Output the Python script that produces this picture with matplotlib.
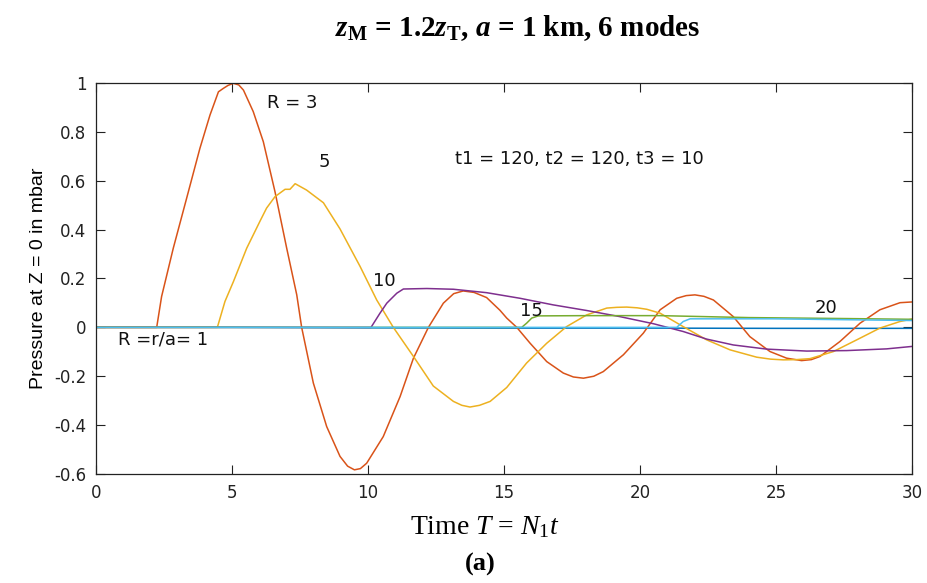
import matplotlib
matplotlib.use("Agg")
import matplotlib.pyplot as plt

# curves: time T and pressure (mbar) for each R = r/a
t_r1 = [0, 5, 10, 15, 20, 25, 30]
p_r1 = [0.0, 0.0, -0.002, -0.003, -0.003, -0.004, -0.004]

t_r3 = [0, 2.23, 2.41, 2.84, 3.33, 3.82, 4.19, 4.5, 4.68, 4.85, 5.05, 5.25, 5.42, 5.78, 6.15, 6.58,
        7.01, 7.38, 7.56, 7.99, 8.48, 8.97, 9.25, 9.5, 9.72, 9.95, 10.56, 11.18, 11.67, 12.22, 12.77,
        13.15, 13.5, 13.9, 14.36, 14.85, 15.1, 15.47, 15.96, 16.57, 17.18, 17.55, 17.92, 18.3, 18.65,
        19.39, 20.12, 20.74, 21.35, 21.7, 22.02, 22.35, 22.7, 23.43, 24.04, 24.78, 25.39, 25.94,
        26.3, 26.62, 27.35, 28.09, 28.82, 29.56, 30]
p_r3 = [0, 0, 0.126, 0.324, 0.528, 0.733, 0.869, 0.964, 0.978, 0.99, 0.999, 0.992, 0.971, 0.883,
        0.76, 0.555, 0.324, 0.133, 0.0, -0.228, -0.406, -0.528, -0.568, -0.583, -0.578, -0.556,
        -0.447, -0.283, -0.126, 0.0, 0.099, 0.138, 0.149, 0.143, 0.122, 0.07, 0.038, 0.0, -0.065,
        -0.14, -0.187, -0.203, -0.208, -0.2, -0.181, -0.112, -0.024, 0.072, 0.119, 0.13, 0.133, 0.127,
        0.112, 0.044, -0.038, -0.099, -0.126, -0.136, -0.132, -0.119, -0.058, 0.017, 0.072, 0.101,
        0.104]

t_r5 = [0, 4.46, 4.74, 5.05, 5.54, 6.03, 6.27, 6.58, 6.95, 7.13, 7.32, 7.74, 8.36, 8.97,
        9.71, 10.32, 10.93, 11.67, 12.4, 13.14, 13.45, 13.75, 14.1, 14.49, 15.1, 15.83, 16.57,
        17.3, 18.04, 18.78, 19.15, 19.51, 19.9, 20.25, 20.74, 21.59, 22.45, 23.31, 24.29, 24.8,
        25.27, 25.75, 26.25, 27.11, 27.97, 28.82, 29.56, 30]
p_r5 = [0, 0, 0.106, 0.187, 0.324, 0.435, 0.488, 0.535, 0.565, 0.565, 0.588, 0.562, 0.51, 0.403,
        0.249, 0.112, 0.0, -0.119, -0.24, -0.303, -0.319, -0.326, -0.319, -0.303, -0.246, -0.146,
        -0.065, 0.003, 0.051, 0.079, 0.082, 0.083, 0.08, 0.074, 0.058, 0.003, -0.051, -0.092,
        -0.122, -0.13, -0.133, -0.132, -0.128, -0.099, -0.051, -0.003, 0.024, 0.034]

t_r10 = [0, 10.11, 10.44, 10.69, 10.87, 11.06, 11.3, 12.16, 13.14, 14.36, 15.59, 16.81,
         18.04, 19.26, 20.49, 21.59, 22.45, 23.43, 24.66, 26.13, 27.6, 29.07, 30]
p_r10 = [0, 0, 0.058, 0.099, 0.119, 0.14, 0.157, 0.159, 0.156, 0.142, 0.119, 0.092,
         0.069, 0.044, 0.015, -0.017, -0.048, -0.072, -0.089, -0.097, -0.095, -0.088, -0.078]

t_r15 = [0, 15.65, 15.83, 16.02, 16.26, 18.04, 20.74, 24.0, 27.6, 30]
p_r15 = [0, 0, 0.017, 0.038, 0.047, 0.048, 0.048, 0.04, 0.036, 0.033]

t_r20 = [0, 21.35, 21.59, 21.84, 24.9, 30]
p_r20 = [0, 0, 0.024, 0.035, 0.035, 0.028]

series = [(t_r1, p_r1, '#0072BD'), (t_r3, p_r3, '#D95319'), (t_r5, p_r5, '#EDB120'),
          (t_r10, p_r10, '#7E2F8E'), (t_r15, p_r15, '#77AC30'), (t_r20, p_r20, '#4DBEEE')]

xticks = [0, 5, 10, 15, 20, 25, 30]
yticks = [-0.6, -0.4, -0.2, 0, 0.2, 0.4, 0.6, 0.8, 1]
ytick_labels = ['-0.6', '-0.4', '-0.2', '0', '0.2', '0.4', '0.6', '0.8', '1']

plt.rcParams['font.family'] = ['DejaVu Sans']
plt.rcParams['mathtext.fontset'] = 'custom'
plt.rcParams['mathtext.rm'] = 'Liberation Serif'
plt.rcParams['mathtext.it'] = 'Liberation Serif:italic'
plt.rcParams['mathtext.bf'] = 'Liberation Serif:bold'
plt.rcParams['mathtext.bfit'] = 'Liberation Serif:bold:italic'

fig = plt.figure(figsize=(9.27, 5.83), dpi=100)
ax = fig.add_axes([0.1036, 0.187, 0.8802, 0.6706])

for t, p, c in series:
    ax.plot(t, p, color=c, linewidth=1.1)

ax.set_xlim(0, 30)
ax.set_ylim(-0.6, 1)
ax.set_xticks(xticks)
ax.set_xticklabels([str(v) for v in xticks])
ax.set_yticks(yticks)
ax.set_yticklabels(ytick_labels)
ax.tick_params(direction='in', length=6.5, width=0.8, top=True, right=True,
               labelsize=12, pad=7, colors='#222222')
for s in ax.spines.values():
    s.set_linewidth(0.9)
    s.set_color('#222222')

ax.set_ylabel('Pressure at Z = 0 in mbar', fontsize=14,
              family='Liberation Sans', labelpad=5)

txt = dict(fontsize=13, color='#111111')
ax.text(6.3, 0.918, 'R = 3', va='center', **txt)
ax.text(8.2, 0.675, '5', va='center', **txt)
ax.text(10.6, 0.19, '10', ha='center', va='center', **txt)
ax.text(16.0, 0.068, '15', ha='center', va='center', **txt)
ax.text(26.85, 0.078, '20', ha='center', va='center', **txt)
ax.text(0.8, -0.05, 'R =r/a= 1', va='center', **txt)
ax.text(13.2, 0.69, 't1 = 120, t2 = 120, t3 = 10', va='center', **txt)

fig.text(0.558, 0.952, r'$\mathbfit{z}_\mathbf{M}$ = 1.2$\mathbfit{z}_\mathbf{T}$, $\mathbfit{a}$ = 1 km, 6 modes',
         ha='center', va='center', fontsize=21, fontweight='bold', family='Liberation Serif')
fig.text(0.523, 0.095, r'Time $T$ = $N_1t$', ha='center', va='center', fontsize=20,
         family='Liberation Serif')
fig.text(0.518, 0.031, '(a)', ha='center', va='center', fontsize=19, fontweight='bold',
         family='Liberation Serif')

fig.savefig('out.png', dpi=100)
